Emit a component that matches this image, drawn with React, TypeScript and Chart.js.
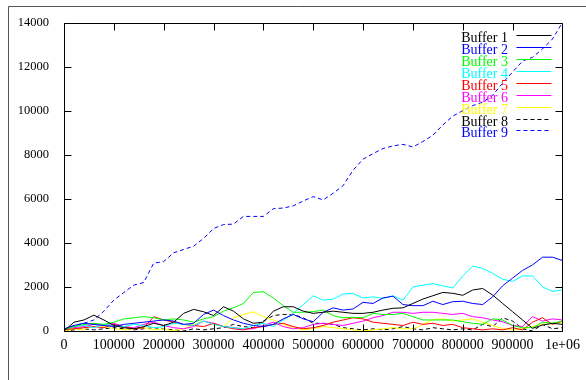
import React, { useEffect, useRef } from "react";
import { Chart, registerables } from "chart.js";

Chart.register(...registerables);

const xValues = [
  0, 20000, 40000, 60000, 80000, 100000, 120000, 140000, 160000, 180000,
  200000, 220000, 240000, 260000, 280000, 300000, 320000, 340000, 360000, 380000,
  400000, 420000, 440000, 460000, 480000, 500000, 520000, 540000, 560000, 580000,
  600000, 620000, 640000, 660000, 680000, 700000, 720000, 740000, 760000, 780000,
  800000, 820000, 840000, 860000, 880000, 900000, 920000, 940000, 960000, 980000, 1000000,
];

const buffer1 = [0,400,500,720,500,250,150,100,200,350, 250,400,800,980,875,700,1100,900,550,350, 400,900,1100,1100,900,800,850,900,850,800, 800,850,950,1030,1050,1250,1450,1600,1750,1710, 1620,1860,1930,1630,1250,875,500,120,270,350,300];
const buffer2 = [100,250,350,300,250,200,300,350,400,450, 500,450,300,350,750,950,700,500,350,250, 200,300,550,750,550,420,850,1050,950,1000, 1300,1250,1500,1580,1200,1150,1150,1350,1200,1330, 1350,1250,1200,1550,2050,2400,2750,3000,3350,3350,3200];
const buffer3 = [50,200,300,350,300,400,550,600,650,600, 500,550,500,400,550,650,900,1050,1250,1750, 1780,1500,1150,850,850,880,950,700,600,620, 600,800,750,750,800,650,500,500,500,500, 420,350,300,550,500,250,150,150,400,350,450];
const buffer4 = [100,200,250,150,300,250,200,300,250,150, 200,350,300,250,450,300,200,150,100,250, 350,200,500,800,1200,1600,1400,1450,1680,1700, 1500,1550,1480,1600,1400,2000,2080,2150,2050,1950, 2500,2950,2840,2620,2350,2250,2500,2500,2000,1800,1860];
const buffer5 = [50,100,150,200,150,300,200,100,150,650, 500,400,300,250,200,350,200,100,50,150, 200,300,350,200,100,150,250,400,500,600, 550,400,350,300,250,400,300,350,250,300, 150,100,50,100,50,150,50,400,600,300,450];
const buffer6 = [100,150,200,300,250,350,200,150,300,400, 250,150,100,200,450,350,200,150,100,100, 250,400,200,100,150,300,350,300,250,350, 450,600,700,850,850,800,850,850,800,750, 800,650,600,500,420,250,200,650,450,550,500];
const buffer7 = [0,100,50,350,200,100,50,100,150,50, 100,0,100,300,450,300,200,600,750,870, 650,500,300,150,50,100,200,150,100,50, 0,50,100,150,100,100,300,520,550,450, 500,550,400,250,100,50,100,200,300,350,400];
const buffer8 = [0,50,100,50,100,150,100,50,100,150, 100,50,0,100,50,100,150,300,200,150, 450,700,750,750,600,350,350,300,150,100, 50,100,50,100,200,100,50,150,100,50, 100,50,300,200,600,450,100,0,300,100,150];
const buffer9 = [50,250,350,500,900,1400,1750,2080,2200,3080, 3150,3550,3700,3850,4200,4650,4830,4850,5200,5200, 5200,5550,5580,5680,5900,6100,5950,6250,6600,7300, 7800,8050,8280,8400,8470,8350,8600,8880,9350,9750, 10000,10230,10380,10700,11250,11750,12250,12420,12800,13250,14000];

const seriesLabels = ["Buffer 1","Buffer 2","Buffer 3","Buffer 4","Buffer 5","Buffer 6","Buffer 7","Buffer 8","Buffer 9"];
const seriesValues = [buffer1, buffer2, buffer3, buffer4, buffer5, buffer6, buffer7, buffer8, buffer9];
const seriesColors = ["#000000","#0000ff","#00ff00","#00ffff","#ff0000","#ff00ff","#ffff00","#000000","#0000ff"];
const seriesDashed = [false,false,false,false,false,false,false,true,true];

const xTicks = [0,100000,200000,300000,400000,500000,600000,700000,800000,900000,1000000];
const yTicks = [0,2000,4000,6000,8000,10000,12000,14000];

const SERIF = '"Liberation Serif", "Times New Roman", serif';

const framePlugin = {
  id: "gpFrame",
  beforeDraw(chart: any) {
    const ctx = chart.ctx;
    ctx.save();
    ctx.fillStyle = "#ffffff";
    ctx.fillRect(0, 0, chart.width, chart.height);
    ctx.strokeStyle = "#555555";
    ctx.lineWidth = 1;
    ctx.beginPath();
    ctx.moveTo(8.5, chart.height);
    ctx.lineTo(8.5, 6.5);
    ctx.lineTo(chart.width, 6.5);
    ctx.stroke();
    ctx.restore();
  },
  afterDraw(chart: any) {
    const ctx = chart.ctx;
    const a = chart.chartArea;
    const xs = chart.scales.x;
    const ys = chart.scales.y;
    const L = Math.round(a.left) + 0.5;
    const R = Math.round(a.right) + 0.5;
    const T = Math.round(a.top) + 0.5;
    const B = Math.round(a.bottom) + 0.5;
    const tl = 7;
    ctx.save();
    ctx.strokeStyle = "#000000";
    ctx.lineWidth = 1;
    ctx.beginPath();
    xTicks.forEach((v) => {
      const px = Math.round(xs.getPixelForValue(v)) + 0.5;
      ctx.moveTo(px, B); ctx.lineTo(px, B - tl);
      ctx.moveTo(px, T); ctx.lineTo(px, T + tl);
    });
    yTicks.forEach((v) => {
      const py = Math.round(ys.getPixelForValue(v)) + 0.5;
      ctx.moveTo(L, py); ctx.lineTo(L + tl, py);
      ctx.moveTo(R, py); ctx.lineTo(R - tl, py);
    });
    ctx.stroke();
    ctx.beginPath();
    ctx.rect(L, T, R - L, B - T);
    ctx.stroke();

    // legend (gnuplot style: right-justified text, sample to its right)
    ctx.font = "14px " + SERIF;
    ctx.textAlign = "right";
    ctx.textBaseline = "alphabetic";
    chart.data.datasets.forEach((ds: any, i: number) => {
      const sy = Math.round(a.top + 12.3 + i * 11.96) + 0.5;
      ctx.fillStyle = ds.borderColor;
      ctx.fillText(ds.label, a.right - 54.5, sy + 6);
      ctx.strokeStyle = ds.borderColor;
      ctx.setLineDash(ds.borderDash || []);
      ctx.beginPath();
      ctx.moveTo(a.right - 46, sy);
      ctx.lineTo(a.right - 11, sy);
      ctx.stroke();
      ctx.setLineDash([]);
    });
    ctx.restore();
  },
};

export default function App() {
  const ref = useRef<HTMLCanvasElement | null>(null);
  useEffect(() => {
    if (!ref.current) return;
    const datasets = seriesLabels.map((label, i) => ({
      label,
      data: xValues.map((x, j) => ({ x, y: seriesValues[i][j] })),
      borderColor: seriesColors[i],
      backgroundColor: seriesColors[i],
      borderWidth: 1,
      borderDash: seriesDashed[i] ? [4, 3] : [],
      pointRadius: 0,
      tension: 0,
      fill: false,
    }));
    const chart = new Chart(ref.current, {
      type: "line",
      data: { datasets },
      options: {
        responsive: false,
        animation: false,
        events: [],
        layout: { padding: { left: 0, top: 22, right: 23, bottom: 0 } },
        plugins: { legend: { display: false }, tooltip: { enabled: false } },
        scales: {
          x: {
            type: "linear",
            min: 0,
            max: 1000000,
            border: { display: false },
            grid: { display: false, drawTicks: false },
            afterFit: (s: any) => { s.height = 49; },
            afterBuildTicks: (s: any) => { s.ticks = xTicks.map((v) => ({ value: v })); },
            ticks: {
              color: "#000000",
              padding: 6,
              maxRotation: 0,
              autoSkip: false,
              font: { family: SERIF, size: 14 },
              callback: (v: any) => (Number(v) >= 1000000 ? "1e+06" : String(v)),
            },
          },
          y: {
            type: "linear",
            min: 0,
            max: 14000,
            border: { display: false },
            grid: { display: false, drawTicks: false },
            afterFit: (s: any) => { s.width = 64; },
            afterBuildTicks: (s: any) => { s.ticks = yTicks.map((v) => ({ value: v })); },
            ticks: {
              color: "#000000",
              padding: 15,
              autoSkip: false,
              font: { family: SERIF, size: 12.5 },
              callback: (v: any) => String(v),
            },
          },
        },
      },
      plugins: [framePlugin],
    });
    return () => chart.destroy();
  }, []);
  return (
    <canvas
      ref={ref}
      width={586}
      height={380}
      style={{ position: "fixed", left: 0, top: 0, width: 586, height: 380 }}
    />
  );
}
